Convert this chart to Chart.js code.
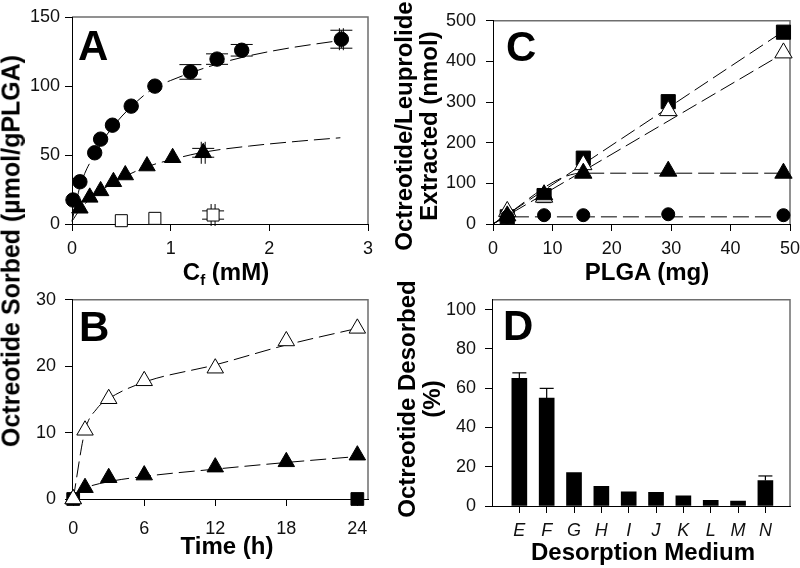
<!DOCTYPE html>
<html><head><meta charset="utf-8">
<script src="https://cdn.jsdelivr.net/npm/chart.js@4.4.1/dist/chart.umd.min.js"></script>
<style>
html,body{margin:0;padding:0;background:#fff;}
#wrap{position:relative;width:800px;height:568px;overflow:hidden;font-family:"Liberation Sans",Arial,Helvetica,sans-serif;background:#fff;}
.cv{position:absolute;}
.t{position:absolute;font-weight:bold;font-size:24px;color:#000;white-space:nowrap;line-height:25px;text-align:center;}
.rot{transform:translate(-50%,-50%) rotate(-90deg);}
.hz{transform:translate(-50%,-50%);}
.lt{position:absolute;font-weight:bold;font-size:42px;line-height:42px;color:#000;}
sub{font-size:15px;vertical-align:-5px;line-height:0;}
</style></head>
<body><div id="wrap">
<canvas class="cv" id="cA" width="400" height="284" style="left:0;top:0"></canvas>
<canvas class="cv" id="cB" width="400" height="288" style="left:0;top:280px"></canvas>
<canvas class="cv" id="cC" width="410" height="284" style="left:400px;top:0"></canvas>
<canvas class="cv" id="cD" width="410" height="288" style="left:400px;top:280px"></canvas>

<div class="t rot" style="left:11px;top:251px;font-size:25px">Octreotide Sorbed (µmol/gPLGA)</div>
<div class="t rot" style="left:416px;top:126px">Octreotide/Leuprolide<br>Extracted (nmol)</div>
<div class="t rot" style="left:419px;top:399px">Octreotide Desorbed<br>(%)</div>
<div class="t hz" style="left:226px;top:271px">C<sub>f</sub> (mM)</div>
<div class="t hz" style="left:227px;top:545px">Time (h)</div>
<div class="t hz" style="left:647px;top:271px">PLGA (mg)</div>
<div class="t hz" style="left:643px;top:551px">Desorption Medium</div>
<div class="lt" style="left:78px;top:25px">A</div>
<div class="lt" style="left:79px;top:306px">B</div>
<div class="lt" style="left:506px;top:26px">C</div>
<div class="lt" style="left:503px;top:305px">D</div>
</div>
<script>
// ---------- Panel A: sorption isotherms ----------
const aTicksX = [0, 1, 2, 3];
const aTicksY = [0, 50, 100, 150];
const aCircX = [0.01, 0.08, 0.23, 0.29, 0.41, 0.60, 0.84, 1.20, 1.47, 1.72, 2.73];
const aCircY = [17.4, 30.6, 51.6, 61.5, 71.6, 85.4, 99.9, 110.2, 119.5, 125.9, 133.9];
const aCircYErr = [0, 0, 0, 0, 0, 0, 0, 5.3, 3.8, 4.2, 6.5];
const aCircXErr = [0, 0, 0, 0, 0, 0, 0, 0, 0, 0, 0.02];
const aTriX = [0.08, 0.18, 0.29, 0.42, 0.54, 0.76, 1.02, 1.33];
const aTriY = [11.4, 19.3, 24.0, 30.6, 35.5, 42.0, 48.0, 51.6];
const aTriYErr = [0, 0, 0, 0, 0, 0, 0, 3.2];
const aTriXErr = [0, 0, 0, 0, 0, 0, 0, 0.02];
const aSqX = [0.50, 0.84, 1.43];
const aSqY = [2.4, 4.1, 6.5];
const aSqYErr = [0, 0, 3.0];
const aSqXErr = [0, 0, 0.02];
const aCircFitX = [0, 0.04, 0.08, 0.15, 0.23, 0.30, 0.42, 0.60, 0.84, 1.0, 1.2, 1.5, 1.8, 2.2, 2.72];
const aCircFitY = [2, 15, 27, 40, 50, 59, 71, 85, 99, 104, 109.5, 116.5, 122, 127.5, 133];
const aTriFitX = [0, 0.08, 0.18, 0.30, 0.42, 0.55, 0.76, 1.0, 1.33, 1.8, 2.3, 2.72];
const aTriFitY = [2, 10.5, 18, 24.5, 30, 35, 41.5, 46.5, 52, 56.5, 60, 62.5];

// ---------- Panel B: sorption kinetics ----------
const bTicksX = [0, 6, 12, 18, 24];
const bTicksY = [0, 10, 20, 30];
const bTime = [0, 1, 3, 6, 12, 18, 24];
const bOpen = [0, 10.35, 15.1, 17.8, 19.7, 23.8, 25.7];
const bFilled = [0, 1.7, 3.2, 3.6, 4.8, 5.6, 6.6];
const bSqT = [0, 24];
const bSqY = [0, 0];
const bOpenFitT = [0, 1, 2, 3, 6, 12, 18, 24];
const bOpenFitY = [0, 10.3, 13.6, 15.1, 17.6, 20.2, 23.2, 25.7];
const bFillFitT = [0, 1, 3, 6, 12, 18, 24];
const bFillFitY = [0.3, 1.6, 2.6, 3.4, 4.5, 5.5, 6.4];

// ---------- Panel C: extraction ----------
const cTicksX = [0, 10, 20, 30, 40, 50];
const cTicksY = [0, 100, 200, 300, 400, 500];
const cPlga = [2.4, 8.6, 15.2, 29.5, 48.9];
const cSquare = [17.6, 70, 162, 301, 472];
const cOpenTri = [31, 66, 146, 279, 421];
const cFillTri = [20, 72, 125, 130, 125];
const cCircle = [18, 21.7, 21.7, 24, 21.7];
const cSqFitX = [0, 49.5], cSqFitY = [0, 480];
const cOtFitX = [0, 49.5], cOtFitY = [0, 425];
const cFtFitX = [0, 15, 49.5], cFtFitY = [0, 125, 125];
const cCiFitX = [0, 2.1, 49.5], cCiFitY = [0, 17.6, 17.6];

// ---------- Panel D: desorption ----------
const dTicksY = [0, 20, 40, 60, 80, 100];
const dLabels = ['E', 'F', 'G', 'H', 'I', 'J', 'K', 'L', 'M', 'N'];
const dValues = [65, 55, 17, 10, 7.2, 7, 5.2, 2.9, 2.5, 13];
const dErrTop = [67.8, 59.9, null, null, null, null, null, null, null, 15.3];

// ---------- helpers ----------
const FONT = '"Liberation Sans", Arial, Helvetica, sans-serif';
const pts = (xs, ys) => xs.map((x, i) => ({x: x, y: ys[i]}));
function axis(min, max, ticks, o) {
  return {
    type: 'linear', min: min, max: max, offset: false,
    afterBuildTicks(s) { s.ticks = ticks.map(v => ({value: v})); },
    afterFit(s) { if (o.pos === 'x') s.height = o.size; else s.width = o.size; },
    grid: {display: true, drawOnChartArea: false, drawTicks: true, tickLength: 7, color: '#000', lineWidth: 1, offset: false},
    border: {display: true, color: '#000', width: 1},
    ticks: {font: {family: FONT, size: 18, style: o.style || 'normal'}, color: '#111', padding: o.pad,
      maxRotation: 0, autoSkip: false, callback: o.cb || (v => String(v))}
  };
}
const frame = {id: 'frame', beforeDraw(ch) {
  const a = ch.chartArea, c = ch.ctx;
  c.save(); c.strokeStyle = '#6e6e6e'; c.lineWidth = 1.5;
  c.beginPath(); c.moveTo(a.left, a.top); c.lineTo(a.right, a.top); c.lineTo(a.right, a.bottom); c.stroke();
  c.restore();
}};
function seg(c, x1, y1, x2, y2) { c.beginPath(); c.moveTo(x1, y1); c.lineTo(x2, y2); c.stroke(); }
function errPlugin(sets) {
  return {id: 'err', beforeDatasetsDraw(ch) {
    const xs = ch.scales.x, ys = ch.scales.y, c = ch.ctx;
    c.save(); c.strokeStyle = '#000'; c.lineWidth = 1;
    sets.forEach(s => s.x.forEach((xv, i) => {
      const px = xs.getPixelForValue(xv), py = ys.getPixelForValue(s.y[i]), h = s.cap / 2;
      if (s.ye[i]) {
        const t = ys.getPixelForValue(s.y[i] + s.ye[i]), b = ys.getPixelForValue(s.y[i] - s.ye[i]);
        seg(c, px, t, px, b); seg(c, px - h, t, px + h, t); seg(c, px - h, b, px + h, b);
      }
      if (s.xe[i]) {
        const l = xs.getPixelForValue(xv - s.xe[i]), r = xs.getPixelForValue(xv + s.xe[i]);
        seg(c, l, py, r, py); seg(c, l, py - h, l, py + h); seg(c, r, py - h, r, py + h);
      }
    }));
    c.restore();
  }};
}
function marker(data, style, r, filled) {
  return {type: 'scatter', data: data, showLine: false, pointStyle: style, pointRadius: r, pointHoverRadius: r,
    pointBackgroundColor: filled ? '#000' : '#fff', pointBorderColor: '#000', pointBorderWidth: 1, clip: false, order: 1};
}
function fit(data, dash) {
  return {type: 'line', data: data, borderColor: '#000', borderWidth: 1, borderDash: dash || [16, 6],
    pointRadius: 0, fill: false, cubicInterpolationMode: 'monotone', order: 2, clip: false};
}
const common = (pad, scales) => ({
  responsive: false, animation: false, devicePixelRatio: 1,
  layout: {padding: pad},
  plugins: {legend: {display: false}, tooltip: {enabled: false}},
  scales: scales
});

// Panel A
new Chart(document.getElementById('cA'), {
  type: 'scatter',
  data: {datasets: [
    marker(pts(aCircX, aCircY), 'circle', 7.2, true),
    marker(pts(aTriX, aTriY), 'triangle', 9.5, true),
    marker(pts(aSqX, aSqY), 'rect', 8.5, false),
    fit(pts(aCircFitX, aCircFitY)),
    fit(pts(aTriFitX, aTriFitY))
  ]},
  options: common({left: 12, top: 17, right: 32, bottom: 20}, {
    x: axis(0, 3, aTicksX, {pos: 'x', size: 40, pad: 7}),
    y: axis(0, 150, aTicksY, {pos: 'y', size: 60, pad: 5})
  }),
  plugins: [frame, errPlugin([
    {x: aCircX, y: aCircY, ye: aCircYErr, xe: aCircXErr, cap: 22},
    {x: aTriX, y: aTriY, ye: aTriYErr, xe: aTriXErr, cap: 22},
    {x: aSqX, y: aSqY, ye: aSqYErr, xe: aSqXErr, cap: 22}
  ])]
});

// Panel B
new Chart(document.getElementById('cB'), {
  type: 'scatter',
  data: {datasets: [
    marker(pts(bTime, bOpen), 'triangle', 9.5, false),
    marker(pts(bTime, bFilled), 'triangle', 9.5, true),
    marker(pts(bSqT, bSqY), 'rect', 9, true),
    fit(pts(bOpenFitT, bOpenFitY)),
    fit(pts(bFillFitT, bFillFitY))
  ]},
  options: common({left: 12, top: 14, right: 32, bottom: 29}, {
    x: axis(-0.1, 24.9, bTicksX, {pos: 'x', size: 40, pad: 12}),
    y: axis(0, 30, bTicksY, {pos: 'y', size: 60, pad: 9})
  }),
  plugins: [frame]
});

// Panel C
new Chart(document.getElementById('cC'), {
  type: 'scatter',
  data: {datasets: [
    marker(pts(cPlga, cCircle), 'circle', 6.5, true),
    marker(pts(cPlga, cFillTri), 'triangle', 10, true),
    marker(pts(cPlga, cOpenTri), 'triangle', 10, false),
    marker(pts(cPlga, cSquare), 'rect', 10, true),
    fit(pts(cSqFitX, cSqFitY)),
    fit(pts(cOtFitX, cOtFitY)),
    fit(pts(cFtFitX, cFtFitY)),
    fit(pts(cCiFitX, cCiFitY))
  ]},
  options: common({left: 33, top: 17, right: 20, bottom: 20}, {
    x: axis(0, 50, cTicksX, {pos: 'x', size: 40, pad: 7}),
    y: axis(0, 500, cTicksY, {pos: 'y', size: 60, pad: 10})
  }),
  plugins: [frame]
});

// Panel D
const dErrBars = {id: 'derr', afterDatasetsDraw(ch) {
  const xs = ch.scales.x, ys = ch.scales.y, c = ch.ctx;
  c.save(); c.strokeStyle = '#000'; c.lineWidth = 1.2;
  dErrTop.forEach((e, i) => {
    if (e == null) return;
    const px = xs.getPixelForValue(i), t = ys.getPixelForValue(e), b = ys.getPixelForValue(dValues[i]);
    seg(c, px, b, px, t); seg(c, px - 7, t, px + 7, t);
  });
  c.restore();
}};
new Chart(document.getElementById('cD'), {
  type: 'bar',
  data: {datasets: [{
    data: pts(dLabels.map((l, i) => i), dValues),
    backgroundColor: '#000', borderWidth: 0, barThickness: 15
  }]},
  options: common({left: 32, top: 15, right: 20, bottom: 22}, {
    x: axis(-1, 9.9, dLabels.map((l, i) => i), {pos: 'x', size: 40, pad: 7, style: 'italic', cb: v => dLabels[v]}),
    y: axis(0, 105, dTicksY, {pos: 'y', size: 60, pad: 9})
  }),
  plugins: [frame, dErrBars]
});
</script>
</body></html>
